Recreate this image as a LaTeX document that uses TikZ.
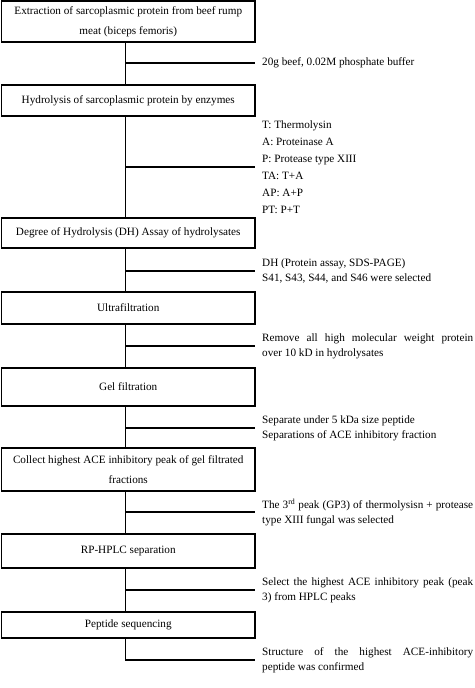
\documentclass[tikz,border=0pt]{standalone}
\usepackage{fontspec}
\setmainfont{Liberation Serif}
\begin{document}
\begin{tikzpicture}[x=1pt,y=-1pt,
  box/.style={draw, line width=1.4pt, inner sep=0pt, align=center, minimum width=253.5pt,
    font=\fontsize{11.2}{20.5}\selectfont},
  side/.style={anchor=west, inner sep=0pt, text width=211pt, align=justify,
    font=\fontsize{11.2}{15}\selectfont},
  conn/.style={line width=1.4pt}]
\useasboundingbox[fill=white] (0,0) rectangle (474,688);
\coordinate (tr) at (125.5,0);
% boxes
\node[box, minimum height=41pt] (b1) at (128.25,21.5) {Extraction of sarcoplasmic protein from beef rump\\meat (biceps femoris)};
\node[box, minimum height=31pt] (b2) at (128.25,100.5) {Hydrolysis of sarcoplasmic protein by enzymes};
\node[box, minimum height=30pt] (b3) at (128.25,233) {Degree of Hydrolysis (DH) Assay of hydrolysates};
\node[box, minimum height=32pt] (b4) at (128.25,308) {Ultrafiltration};
\node[box, minimum height=38pt] (b5) at (128.25,387) {Gel filtration};
\node[box, minimum height=43pt] (b6) at (128.25,469.5) {Collect highest ACE inhibitory peak of gel filtrated\\fractions};
\node[box, minimum height=34pt] (b7) at (128.25,551) {RP-HPLC separation};
\node[box, minimum height=26pt] (b8) at (128.25,625) {Peptide sequencing};
% side notes
\node[side] (s1) at (262,63) {20g beef, 0.02M phosphate buffer};
\node[side, font=\fontsize{11.2}{17}\selectfont] (s2) at (262,167) {T: Thermolysin\\A: Proteinase A\\P: Protease type XIII\\TA: T+A\\AP: A+P\\PT: P+T};
\node[side] (s3) at (262,271) {DH (Protein assay, SDS-PAGE)\\S41, S43, S44, and S46 were selected};
\node[side] (s4) at (262,346) {Remove all high molecular weight protein\linebreak over 10 kD in hydrolysates};
\node[side] (s5) at (262,428) {Separate under 5 kDa size peptide\\Separations of ACE inhibitory fraction};
\node[side] (s6) at (262,512) {The 3\textsuperscript{rd} peak (GP3) of thermolysisn + protease\linebreak type XIII fungal was selected};
\node[side] (s7) at (262,590) {Select the highest ACE inhibitory peak (peak\linebreak 3) from HPLC peaks};
\node[side] (s8) at (262,660) {Structure of the highest ACE-inhibitory\linebreak peptide was confirmed};
% trunk
\draw[conn] (b1.south -| tr) -- (b2.north -| tr);
\draw[conn] (b2.south -| tr) -- (b3.north -| tr);
\draw[conn] (b3.south -| tr) -- (b4.north -| tr);
\draw[conn] (b4.south -| tr) -- (b5.north -| tr);
\draw[conn] (b5.south -| tr) -- (b6.north -| tr);
\draw[conn] (b6.south -| tr) -- (b7.north -| tr);
\draw[conn] (b7.south -| tr) -- (b8.north -| tr);
\draw[conn] (b8.south -| tr) |- ([xshift=-7pt]s8.west);
% branches
\foreach \s in {s1,s2,s3,s4,s5,s6,s7}
  \draw[conn] (tr |- \s.west) -- ([xshift=-7pt]\s.west);
\end{tikzpicture}
\end{document}
